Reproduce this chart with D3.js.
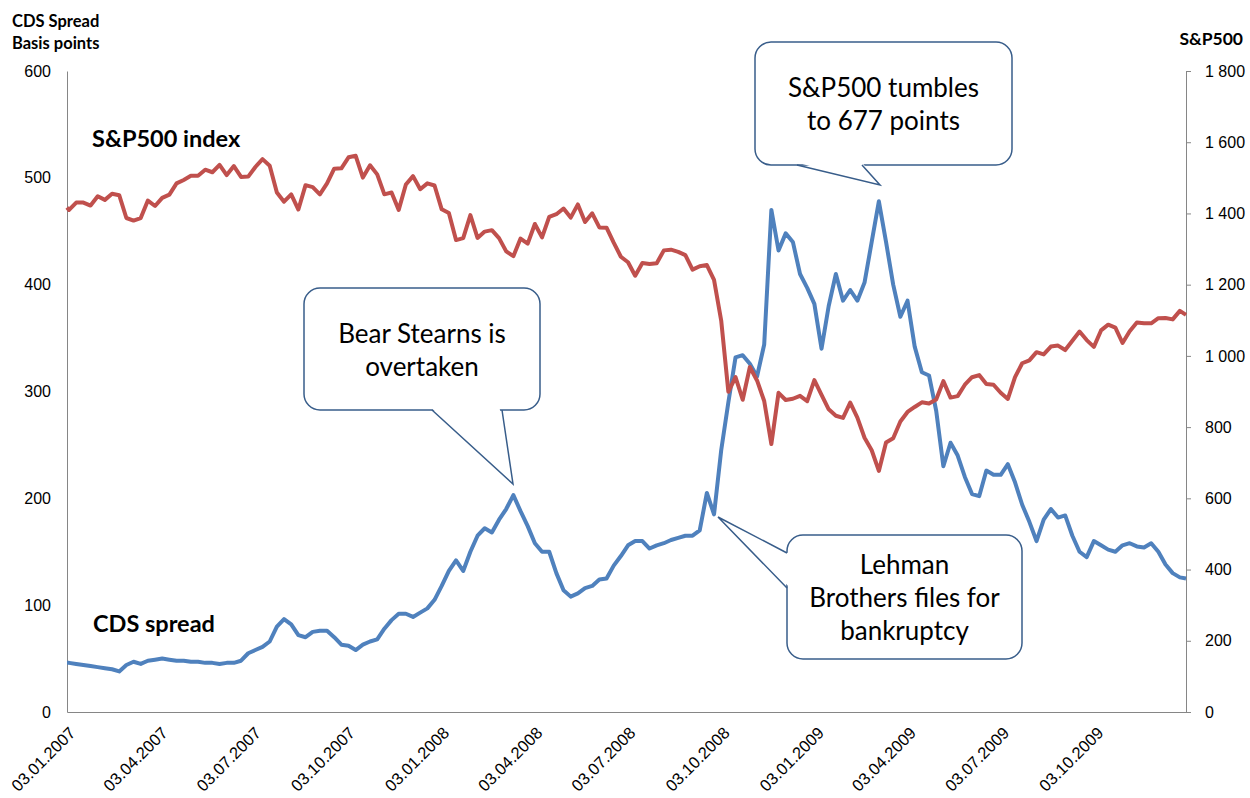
<!DOCTYPE html>
<html>
<head>
<meta charset="utf-8">
<script src="https://cdn.jsdelivr.net/npm/d3@7"></script>
<style>
  body { margin: 0; background: #fff; }
  svg { font-family: Lato, "Open Sans", sans-serif; }
  .axis path, .axis line { stroke: #868686; }
  .axis text { font-size: 16px; fill: #000; }
</style>
</head>
<body>
<div id="chart"></div>
<script>
// quarterly labels on the date axis
var tickLabels = ["03.01.2007", "03.04.2007", "03.07.2007", "03.10.2007",
  "03.01.2008", "03.04.2008", "03.07.2008", "03.10.2008",
  "03.01.2009", "03.04.2009", "03.07.2009", "03.10.2009"];

var leftTicks = [0, 100, 200, 300, 400, 500, 600];
var rightTicks = [0, 200, 400, 600, 800, 1000, 1200, 1400, 1600, 1800];

// S&P500 index, weekly (first value 03.01.2007, then Fridays, last 31.12.2009)
var sp500 = [1416.6,
  1409.7, 1430.7, 1430.5, 1422.2, 1448.4, 1438.1, 1455.5, 1451.2, 1387.2, 1380.0,
  1386.9, 1436.1, 1420.9, 1443.8, 1452.9, 1484.4, 1494.1, 1505.6, 1505.9, 1522.8,
  1515.7, 1536.3, 1507.7, 1532.9, 1502.6, 1503.4, 1530.4, 1552.5, 1534.1, 1458.9,
  1433.1, 1453.6, 1411.0, 1479.4, 1473.9, 1453.6, 1484.3, 1525.8, 1526.8, 1557.6,
  1561.8, 1500.6, 1535.3, 1509.7, 1453.7, 1458.7, 1410.0, 1481.1, 1504.7, 1467.9,
  1484.5, 1478.5,
  1411.6, 1401.0, 1325.2, 1330.6, 1395.4, 1331.3, 1349.0, 1353.1, 1330.6, 1293.4,
  1280.0, 1329.5, 1315.2, 1370.4, 1332.8, 1390.3, 1397.8, 1413.9, 1388.3, 1425.4,
  1375.9, 1400.4, 1360.7, 1360.0, 1317.9, 1278.4, 1262.9, 1225.0, 1260.7, 1257.8,
  1260.3, 1296.3, 1298.2, 1292.2, 1282.8, 1242.3, 1251.7, 1255.1, 1213.3, 1099.2,
  899.2, 940.6, 876.8, 968.8, 931.0, 873.3, 752.4, 896.2, 876.1, 879.7,
  887.9, 872.8,
  931.8, 890.4, 850.1, 832.0, 825.9, 868.6, 826.8, 770.1, 735.1, 677.0,
  756.6, 768.5, 815.9, 842.5, 856.6, 869.6, 866.2, 877.5, 929.2, 882.9,
  887.0, 919.1, 940.1, 946.2, 921.2, 918.9, 896.4, 879.1, 940.4, 979.3,
  987.5, 1010.5, 1004.1, 1026.1, 1028.9, 1016.4, 1042.7, 1068.3, 1044.4, 1025.2,
  1071.5, 1087.7, 1079.6, 1036.2, 1069.3, 1093.5, 1091.4, 1091.5, 1106.0, 1106.4,
  1102.5, 1126.5,
  1115.1];

// CDS spread in basis points, same dates
var cds = [46,
  46, 45, 44, 43, 42, 41, 40, 38, 44, 47,
  45, 48, 49, 50, 49, 48, 48, 47, 47, 46,
  46, 45, 46, 46, 48, 55, 58, 61, 66, 80,
  87, 82, 72, 70, 75, 76, 76, 70, 63, 62,
  58, 63, 66, 68, 78, 86, 92, 92, 89, 93,
  97, 105, 118, 132, 142, 132, 150, 165, 172, 168,
  180, 190, 203, 188, 174, 158, 150, 150, 130, 114,
  108, 111, 116, 118, 124, 125, 137, 146, 156, 160,
  160, 153, 156, 158, 161, 163, 165, 165, 170, 205,
  185, 245, 290, 332, 334, 326, 314, 344, 470, 432,
  448, 440, 410, 397, 382, 340, 380, 410, 385, 395,
  385, 402, 440, 478, 440, 400, 370, 385, 342, 318,
  315, 282, 230, 252, 240, 220, 204, 202, 226, 222,
  222, 232, 215, 194, 178, 160, 180, 190, 182, 184,
  165, 150, 145, 160, 156, 152, 150, 156, 158, 155,
  154, 158, 150, 138, 130, 126,
  125];

var width = 1250, height = 798;
var plot = {left: 67, right: 1186, top: 71, bottom: 712};

var parseTick = d3.timeParse("%d.%m.%Y");
var firstDay = new Date(2007, 0, 3), lastDay = new Date(2009, 11, 31);
var dates = [firstDay]
  .concat(d3.timeFriday.range(new Date(2007, 0, 4), new Date(2009, 11, 26)))
  .concat([lastDay]);

var data = dates.map(function(d, i) { return {date: d, sp: sp500[i], cds: cds[i]}; });

var x = d3.scaleTime().domain([firstDay, lastDay]).range([plot.left, plot.right]);
var yL = d3.scaleLinear().domain([0, 600]).range([plot.bottom, plot.top]);
var yR = d3.scaleLinear().domain([0, 1800]).range([plot.bottom, plot.top]);

var fmt = d3.formatLocale({decimal: ",", thousands: "\u00a0", grouping: [3], currency: ["", ""]}).format(",d");

var svg = d3.select("#chart").append("svg")
  .attr("width", width)
  .attr("height", height);

// axes
svg.append("g")
  .attr("class", "axis")
  .attr("transform", "translate(" + plot.left + ",0)")
  .call(d3.axisLeft(yL).tickValues(leftTicks).tickSize(0).tickPadding(16));

svg.append("g")
  .attr("class", "axis")
  .attr("transform", "translate(" + plot.right + ",0)")
  .call(d3.axisRight(yR).tickValues(rightTicks).tickFormat(fmt).tickSize(5).tickSizeOuter(0).tickPadding(14));

var xAxis = svg.append("g")
  .attr("class", "axis")
  .attr("transform", "translate(0," + plot.bottom + ")")
  .call(d3.axisBottom(x).tickValues(tickLabels.map(parseTick)).tickSize(0)
    .tickFormat(function(d, i) { return tickLabels[i]; }));

xAxis.selectAll("text")
  .attr("x", 0)
  .attr("y", 0)
  .attr("dy", "0.35em")
  .attr("text-anchor", "end")
  .style("font-size", "16.5px")
  .attr("transform", "translate(5,18) rotate(-45)");

// axis titles
svg.append("text").attr("x", 12).attr("y", 27)
  .style("font-size", "16.5px").style("font-weight", "bold").text("CDS Spread");
svg.append("text").attr("x", 12).attr("y", 49)
  .style("font-size", "16.5px").style("font-weight", "bold").text("Basis points");
svg.append("text").attr("x", 1243).attr("y", 45).attr("text-anchor", "end")
  .style("font-size", "17.5px").style("font-weight", "bold").text("S&P500");

// series
var cdsLine = d3.line()
  .x(function(d) { return x(d.date); })
  .y(function(d) { return yL(d.cds); });

var spLine = d3.line()
  .x(function(d) { return x(d.date); })
  .y(function(d) { return yR(d.sp); });

svg.append("path")
  .datum(data)
  .attr("fill", "none")
  .attr("stroke", "#4F81BD")
  .attr("stroke-width", 4)
  .attr("stroke-linejoin", "round")
  .attr("d", cdsLine);

svg.append("path")
  .datum(data)
  .attr("fill", "none")
  .attr("stroke", "#C0504D")
  .attr("stroke-width", 4)
  .attr("stroke-linejoin", "round")
  .attr("d", spLine);

// series labels
svg.append("text").attr("x", 92).attr("y", 147)
  .style("font-size", "23.5px").style("font-weight", "bold").text("S&P500 index");
svg.append("text").attr("x", 93).attr("y", 632)
  .style("font-size", "23.5px").style("font-weight", "bold").text("CDS spread");

// callouts
var callouts = [
  {box: [304, 288, 236, 122], wedge: [[432, 410], [513, 484], [502, 410]],
   lines: ["Bear Stearns is", "overtaken"], ty: 343},
  {box: [755, 42, 257, 123], wedge: [[797, 165], [880, 185], [862, 165]],
   lines: ["S&P500 tumbles", "to 677 points"], ty: 97},
  {box: [787, 535, 235, 124], wedge: [[787, 553], [718, 517], [787, 588]],
   lines: ["Lehman", "Brothers files for", "bankruptcy"], ty: 574}
];

callouts.forEach(function(c) {
  var g = svg.append("g");
  g.append("rect")
    .attr("x", c.box[0]).attr("y", c.box[1])
    .attr("width", c.box[2]).attr("height", c.box[3])
    .attr("rx", 16).attr("ry", 16)
    .attr("fill", "#fff")
    .attr("stroke", "#385D8A")
    .attr("stroke-width", 1.5);
  // cover the box edge between the wedge base points
  var cx = c.box[0] + c.box[2] / 2, cy = c.box[1] + c.box[3] / 2;
  var inner = c.wedge.map(function(p, i) {
    if (i === 1) return p;
    return [p[0] + (cx - p[0]) * 0.03, p[1] + (cy - p[1]) * 0.03];
  });
  g.append("path")
    .attr("d", "M" + inner.join("L") + "Z")
    .attr("fill", "#fff");
  g.append("path")
    .attr("d", "M" + c.wedge.join("L"))
    .attr("fill", "none")
    .attr("stroke", "#385D8A")
    .attr("stroke-width", 1.5)
    .attr("stroke-linejoin", "miter");
  c.lines.forEach(function(t, i) {
    g.append("text")
      .attr("x", cx)
      .attr("y", c.ty + i * 33)
      .attr("text-anchor", "middle")
      .style("font-size", "26px")
      .text(t);
  });
});
</script>
</body>
</html>
